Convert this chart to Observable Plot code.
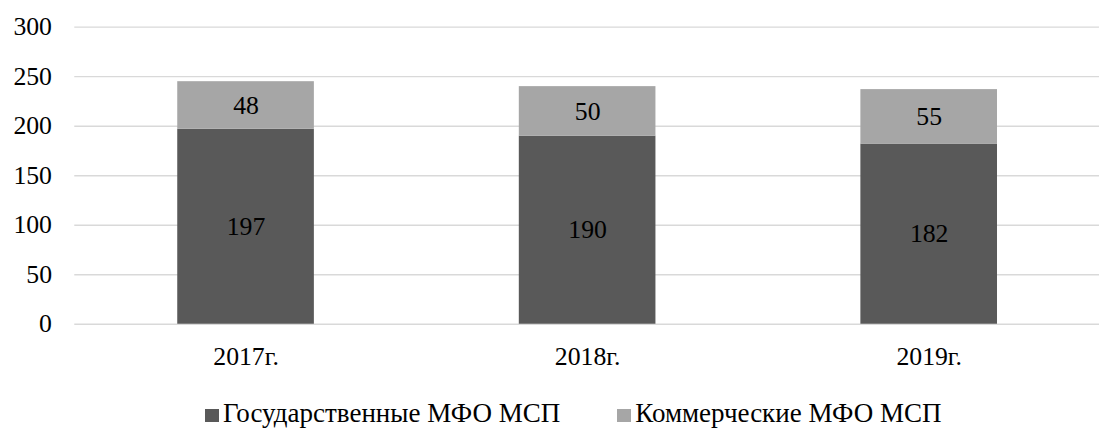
<!DOCTYPE html>
<html>
<head>
<meta charset="utf-8">
<script src="https://cdn.jsdelivr.net/npm/d3@7"></script>
<script src="https://cdn.jsdelivr.net/npm/@observablehq/plot@0.6"></script>
</head>
<body style="margin:0;padding:0;background:#fff;overflow:hidden;">
<div id="wrap" style="position:relative;width:1099px;height:428px;">
  <div id="chart"></div>
  <div id="legend" style="position:absolute;left:205px;top:400px;font-size:27px;line-height:27px;color:#000;white-space:nowrap;"></div>
</div>
<script>
const years = ["2017г.", "2018г.", "2019г."];
const seriesNames = ["Государственные МФО МСП", "Коммерческие МФО МСП"];
const govValues = [197, 190, 182];
const comValues = [48, 50, 55];
const yTicks = [0, 50, 100, 150, 200, 250, 300];
const colors = ["#595959", "#a6a6a6"];

const data = [];
years.forEach((y, i) => {
  data.push({year: y, series: seriesNames[0], value: govValues[i]});
  data.push({year: y, series: seriesNames[1], value: comValues[i]});
});

const font = "'Liberation Serif', serif";

const chart = Plot.plot({
  width: 1110,
  height: 385,
  marginLeft: 75,
  marginRight: 0,
  marginTop: 27,
  marginBottom: 58,
  style: {fontFamily: font, fontSize: "26px", color: "#000", background: "transparent"},
  x: {domain: years, paddingInner: 0.6, paddingOuter: 0.3, label: null},
  y: {domain: [0, 300], label: null},
  color: {domain: seriesNames, range: colors},
  marks: [
    Plot.ruleY(yTicks, {stroke: "#d9d9d9", strokeWidth: 1.3}),
    Plot.axisY({ticks: yTicks, tickSize: 0, tickPadding: 23, label: null, fontSize: 26}),
    Plot.axisX({tickSize: 0, tickPadding: 23, label: null, fontSize: 26}),
    Plot.barY(data, {x: "year", y: "value", fill: "series", order: seriesNames}),
    Plot.text(data, Plot.stackY({x: "year", y: "value", z: "series", order: seriesNames, text: d => String(d.value), fill: "#000", fontSize: 26}))
  ]
});
document.getElementById("chart").appendChild(chart);

const legend = document.getElementById("legend");
legend.style.fontFamily = font;
seriesNames.forEach((name, i) => {
  const item = document.createElement("span");
  item.style.display = "inline-block";
  if (i > 0) item.style.marginLeft = "57px";
  const sw = document.createElement("span");
  sw.style.cssText = "display:inline-block;width:14px;height:13px;margin-right:4px;vertical-align:baseline;background:" + colors[i];
  item.appendChild(sw);
  item.appendChild(document.createTextNode(name));
  legend.appendChild(item);
});
</script>
</body>
</html>
